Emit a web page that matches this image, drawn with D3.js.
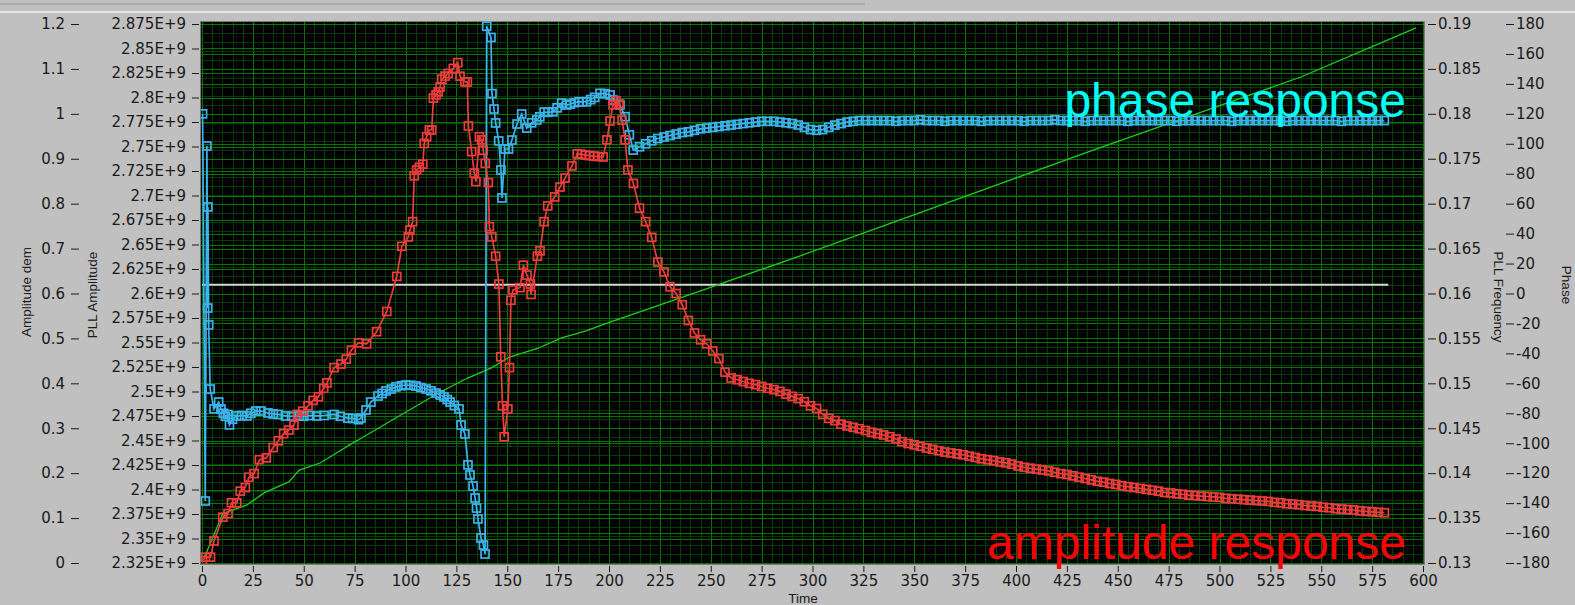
<!DOCTYPE html>
<html>
<head>
<meta charset="utf-8">
<script src="https://cdn.jsdelivr.net/npm/d3@7"></script>
<style>
  html, body { margin: 0; padding: 0; background: #c0c0c0; }
  svg { display: block; }
  .tick text { font-family: "DejaVu Sans", sans-serif; font-size: 15px; fill: #1a1a1a; }
  .title { font-family: "Liberation Sans", Arial, sans-serif; font-size: 13.5px; fill: #1a1a1a; }
</style>
</head>
<body>
<svg id="chart" width="1575" height="605"></svg>
<script>
// ---- axes ticks ----
const timeTicks = d3.range(0, 601, 25);
const ampDemTicks = [0, 0.1, 0.2, 0.3, 0.4, 0.5, 0.6, 0.7, 0.8, 0.9, 1, 1.1, 1.2];
const pllAmpTicks = [2.325, 2.35, 2.375, 2.4, 2.425, 2.45, 2.475, 2.5, 2.525, 2.55, 2.575, 2.6,
                     2.625, 2.65, 2.675, 2.7, 2.725, 2.75, 2.775, 2.8, 2.825, 2.85, 2.875];
const freqTicks = [0.13, 0.135, 0.14, 0.145, 0.15, 0.155, 0.16, 0.165, 0.17, 0.175, 0.18, 0.185, 0.19];
const phaseTicks = [180, 160, 140, 120, 100, 80, 60, 40, 20, 0, -20, -40, -60, -80, -100, -120, -140, -160, -180];

// ---- amplitude response (Amplitude dem axis) ----
const ampTime = [0.2, 1.7, 4.2, 5.9, 10.2, 12.8, 14.5, 17.1, 18.8, 21.3, 23.0, 25.6, 28.2, 31.6, 35.0, 37.5,
  40.1, 42.7, 45.2, 46.9, 49.5, 52.1, 54.6, 57.2, 59.8, 61.4, 64.9, 68.3, 70.9, 73.4, 76.9, 80.9, 85.8,
  90.8, 95.7, 98.2, 101.4, 102.2, 103.5, 104.3, 105.5, 106.8, 108.5, 109.2, 110.4, 111.7, 112.9, 113.7,
  115.0, 116.1, 117.0, 117.8, 119.4, 121.0, 123.5, 125.7, 126.8, 129.2, 130.4, 130.9, 132.5, 133.8, 134.6,
  136.3, 137.4, 138.2, 139.2, 140.7, 141.2, 142.4, 144.3, 145.9, 146.8, 147.7, 148.5, 150.3, 151.1, 151.8,
  152.8, 156.3, 157.9, 159.7, 161.4, 161.7, 164.8, 166.1, 168.1, 169.9, 173.3, 175.9, 178.4, 181.8, 184.4,
  186.5, 188.5, 190.4, 192.5, 194.5, 197.1, 199.0, 200.5, 202.0, 203.4, 204.9, 206.4, 207.9, 209.3,
  212, 215, 218, 221, 224, 227, 230, 233, 236, 239, 242, 245, 248, 251, 254, 257, 260, 263, 266, 269,
  272, 275, 278, 281, 284, 287, 290, 293, 296, 299, 302, 305, 308, 311, 314, 317, 320, 323, 326, 329,
  332, 335, 338, 341, 344, 347, 350, 353, 356, 359, 362, 365, 368, 371, 374, 377, 380, 383, 386, 389,
  392, 395, 398, 401, 404, 407, 410, 413, 416, 419, 422, 425, 428, 431, 434, 437, 440, 443, 446, 449,
  452, 455, 458, 461, 464, 467, 470, 473, 476, 479, 482, 485, 488, 491, 494, 497, 500, 503, 506, 509,
  512, 515, 518, 521, 524, 527, 530, 533, 536, 539, 542, 545, 548, 551, 554, 557, 560, 563, 566, 569,
  572, 575, 578, 581];
const ampValue = [0.005, 0.013, 0.013, 0.049, 0.102, 0.110, 0.134, 0.134, 0.160, 0.168, 0.191, 0.199, 0.230,
  0.234, 0.257, 0.272, 0.288, 0.296, 0.307, 0.331, 0.338, 0.350, 0.362, 0.370, 0.389, 0.401, 0.435, 0.443,
  0.454, 0.474, 0.490, 0.488, 0.515, 0.560, 0.638, 0.705, 0.726, 0.741, 0.760, 0.862, 0.875, 0.881, 0.888,
  0.934, 0.949, 0.964, 0.964, 1.035, 1.042, 1.049, 1.060, 1.077, 1.084, 1.090, 1.101, 1.114, 1.084, 1.071,
  1.071, 0.973, 0.916, 0.868, 0.849, 0.949, 0.942, 0.919, 0.890, 0.847, 0.749, 0.726, 0.683, 0.621, 0.459,
  0.350, 0.281, 0.343, 0.435, 0.585, 0.608, 0.613, 0.663, 0.641, 0.621, 0.598, 0.683, 0.695, 0.760, 0.795,
  0.815, 0.837, 0.857, 0.884, 0.911, 0.910, 0.908, 0.907, 0.906, 0.905, 0.904, 0.942, 0.984, 1.020, 1.029,
  1.022, 0.986, 0.942, 0.875,
  0.845, 0.790, 0.760, 0.725, 0.670, 0.648, 0.615, 0.600, 0.575, 0.540, 0.512, 0.497, 0.488, 0.472, 0.455,
  0.425, 0.412, 0.408, 0.404, 0.400, 0.397, 0.393, 0.389, 0.386, 0.382, 0.376, 0.371, 0.366, 0.359, 0.350,
  0.344, 0.331, 0.322, 0.317, 0.309, 0.305, 0.302, 0.299, 0.295, 0.291, 0.288, 0.285, 0.281, 0.276, 0.270,
  0.266, 0.263, 0.260, 0.256, 0.253, 0.250, 0.247, 0.245, 0.243, 0.241, 0.238, 0.235, 0.232, 0.230, 0.228,
  0.225, 0.223, 0.220, 0.216, 0.213, 0.211, 0.209, 0.207, 0.205, 0.202, 0.199, 0.197, 0.194, 0.191, 0.188,
  0.185, 0.182, 0.180, 0.177, 0.175, 0.172, 0.170, 0.168, 0.166, 0.164, 0.162, 0.160, 0.157, 0.156, 0.154,
  0.153, 0.151, 0.150, 0.149, 0.148, 0.147, 0.146, 0.144, 0.143, 0.142, 0.141, 0.140, 0.139, 0.138, 0.137,
  0.135, 0.134, 0.132, 0.131, 0.130, 0.128, 0.127, 0.126, 0.124, 0.123, 0.121, 0.120, 0.119, 0.118, 0.116,
  0.115, 0.114, 0.113, 0.112];

// ---- phase response (Phase axis, degrees) ----
const phaseTime = [0.3, 1.6, 2.4, 2.8, 2.9, 3.3, 4.0, 5.9, 8.2, 9.3, 10.5, 11.5, 12.7, 13.5, 15.0, 17.0, 19.5,
  22.1, 24.0, 26.4, 29.0, 32.4, 35.0, 37.5, 41.0, 44.0, 47.8, 50.0, 53.0, 56.3, 60.0, 64.9, 68.0, 71.7, 74.0,
  76.9, 78.1, 80.6, 83.0, 86.5, 88.5, 90.4, 93.0, 95.3, 98.0, 100.2, 102.5, 105.2, 107.5, 110.1, 112.5, 115.0,
  117.0, 118.9, 120.5, 121.9, 124.0, 126.3, 127.3, 129.2, 130.7, 131.7, 133.2, 134.2, 134.9, 135.6, 137.1,
  138.3, 139.1, 139.9, 142.0, 142.5, 143.5, 144.3, 145.8, 146.9, 147.4, 148.9, 150.6, 152.3, 154.8, 157.1,
  159.6, 162.0, 164.5, 166.0, 168.1, 170.0, 172.5, 174.5, 176.7, 179.2, 181.0, 183.0, 185.3, 187.0, 189.0,
  191.0, 193.0, 195.6, 198.0, 200.5, 202.1, 205.4, 207.9, 210.0, 211.9,
  215, 218, 221, 224, 227, 230, 233, 236, 239, 242, 245, 248, 251, 254, 257, 260, 263, 266, 269,
  272, 275, 278, 281, 284, 287, 290, 293, 296, 299, 302, 305, 308, 311, 314, 317, 320, 323, 326, 329,
  332, 335, 338, 341, 344, 347, 350, 353, 356, 359, 362, 365, 368, 371, 374, 377, 380, 383, 386, 389,
  392, 395, 398, 401, 404, 407, 410, 413, 416, 419, 422, 425, 428, 431, 434, 437, 440, 443, 446, 449,
  452, 455, 458, 461, 464, 467, 470, 473, 476, 479, 482, 485, 488, 491, 494, 497, 500, 503, 506, 509,
  512, 515, 518, 521, 524, 527, 530, 533, 536, 539, 542, 545, 548, 551, 554, 557, 560, 563, 566, 569,
  572, 575, 578, 581];
const phaseValue = [120.0, -138.6, 98.5, -9.7, 57.8, -21.0, -63.8, -77.1, -72.5, -77.1, -80.0, -82.0, -80.8,
  -87.8, -84.0, -81.8, -81.5, -81.8, -80.0, -78.5, -78.5, -79.8, -80.5, -80.8, -81.8, -82.0, -81.8, -82.0,
  -81.5, -81.8, -81.5, -80.8, -82.0, -83.2, -83.5, -84.3, -83.2, -77.8, -72.5, -68.5, -66.8, -65.1, -63.8,
  -62.4, -61.6, -61.1, -61.3, -61.8, -62.8, -63.8, -65.0, -66.5, -67.8, -69.1, -70.8, -72.5, -74.8, -77.1,
  -87.8, -93.8, -114.5, -121.2, -128.6, -136.6, -143.3, -150.6, -163.3, -168.0, -174.0, 178.5, 171.0, 133.5,
  123.2, 113.9, 101.9, 82.5, 63.8, 96.5, 96.5, 102.5, 113.2, 119.9, 110.5, 114.0, 115.9, 118.0, 121.2, 121.0,
  121.4, 124.0, 127.2, 125.9, 126.5, 127.5, 128.1, 128.0, 128.1, 129.5, 131.0, 133.7, 133.5, 132.6, 129.2,
  125.9, 118.1, 106.0, 95.8,
  98.0, 100.0, 102.0, 103.5, 104.5, 105.5, 106.5, 107.5, 108.0, 109.0, 110.0, 110.5, 111.0, 111.5, 112.0,
  112.5, 113.0, 113.5, 114.0, 114.5, 115.0, 115.0, 115.0, 114.5, 114.0, 113.5, 112.5, 111.0, 109.5, 109.0,
  109.5, 111.0, 112.5, 113.5, 114.5, 115.0, 115.5, 115.5, 115.5, 115.5, 115.5, 115.5, 115.0, 115.5, 115.5,
  115.5, 116.0, 115.5, 115.5, 115.5, 115.0, 115.5, 115.5, 115.5, 115.5, 115.5, 115.0, 115.5, 115.5, 115.5,
  115.5, 115.5, 115.5, 115.0, 115.5, 115.5, 115.5, 115.5, 116.0, 115.5, 115.5, 115.5, 115.5, 115.0, 115.5,
  115.5, 115.5, 115.5, 115.5, 115.5, 115.0, 115.5, 115.5, 115.5, 115.5, 115.5, 115.5, 115.5, 115.0, 115.5,
  115.5, 115.5, 115.5, 115.5, 115.5, 115.5, 115.5, 115.0, 115.5, 115.5, 115.5, 115.5, 115.5, 115.5, 115.5,
  115.5, 115.0, 115.5, 115.5, 115.5, 115.5, 115.5, 115.5, 115.5, 115.5, 115.0, 115.5, 115.5, 115.5, 115.5,
  115.5, 115.5, 115.5];

// ---- PLL frequency ----
const freqTime = [0.5, 1.7, 10.2, 22.1, 30.7, 42.7, 47.8, 58.0, 64.9, 71.7, 77.6, 117.0, 130.6, 142.5, 151.1,
  164.8, 176.7, 188.7, 198.0, 245.0, 294.0, 343.0, 392.0, 441.0, 490.0, 540.0, 596.6];
const freqValue = [0.13067, 0.13089, 0.13550, 0.13646, 0.13783, 0.13902, 0.14035, 0.14113, 0.14208,
  0.14304, 0.14380, 0.14904, 0.15059, 0.15175, 0.15293, 0.15388, 0.15505, 0.15583, 0.15661, 0.16030,
  0.16420, 0.16820, 0.17220, 0.17620, 0.18010, 0.18410, 0.18956];

// ---- PLL amplitude reference level ----
const pllRefTime = [0, 583];
const pllRefValue = [2.609e9, 2.609e9];

// ---- layout ----
const svg = d3.select("#chart");
const W = 1575, H = 605;
const plot = { left: 201, right: 1424, top: 22, bottom: 564 };
const yTop = 24, yBottom = 563;

const x = d3.scaleLinear().domain([0, 600]).range([202, 1423]);
const yAmp = d3.scaleLinear().domain([0, 1.2]).range([yBottom, yTop]);
const yPll = d3.scaleLinear().domain([2.325e9, 2.875e9]).range([yBottom, yTop]);
const yFreq = d3.scaleLinear().domain([0.13, 0.19]).range([yBottom, yTop]);
const yPhase = d3.scaleLinear().domain([-180, 180]).range([yBottom, yTop]);

// window frame strip along the top
svg.append("rect").attr("x", 0).attr("y", 0).attr("width", W).attr("height", H).attr("fill", "#c0c0c0");
svg.append("rect").attr("x", 0).attr("y", 3).attr("width", 865).attr("height", 2).attr("fill", "#a8a8a8");
svg.append("rect").attr("x", 0).attr("y", 11).attr("width", W).attr("height", 2).attr("fill", "#e4e4e4");

// plot background
svg.append("rect")
  .attr("x", plot.left).attr("y", plot.top)
  .attr("width", plot.right - plot.left).attr("height", plot.bottom - plot.top)
  .attr("fill", "#000");

const grid = svg.append("g");
const minorCol = "#003c00", majorCol = "#007800";

// vertical grid
d3.range(0, 601, 5).forEach(t => {
  grid.append("line")
    .attr("x1", Math.round(x(t)) + 0.5).attr("x2", Math.round(x(t)) + 0.5)
    .attr("y1", plot.top).attr("y2", plot.bottom)
    .attr("stroke", t % 25 === 0 ? majorCol : minorCol).attr("stroke-width", 1);
});
// horizontal minor grid
d3.range(0, 1.2001, 0.02).forEach(v => {
  grid.append("line").attr("x1", plot.left).attr("x2", plot.right)
    .attr("y1", Math.round(yAmp(v)) + 0.5).attr("y2", Math.round(yAmp(v)) + 0.5)
    .attr("stroke", minorCol);
});
// horizontal major grids for each value axis
function hLines(scale, vals, mul) {
  vals.forEach(v => {
    const yy = Math.round(scale(v * mul)) + 0.5;
    grid.append("line").attr("x1", plot.left).attr("x2", plot.right)
      .attr("y1", yy).attr("y2", yy).attr("stroke", majorCol);
  });
}
hLines(yAmp, ampDemTicks, 1);
hLines(yPll, pllAmpTicks, 1e9);
hLines(yPhase, phaseTicks, 1);

// plot border
svg.append("rect")
  .attr("x", plot.left - 0.5).attr("y", plot.top - 0.5)
  .attr("width", plot.right - plot.left + 1).attr("height", plot.bottom - plot.top + 1)
  .attr("fill", "none").attr("stroke", "#7a7a7a");

// ---- series ----
svg.append("clipPath").attr("id", "plotclip").append("rect")
  .attr("x", plot.left).attr("y", plot.top - 4)
  .attr("width", plot.right - plot.left).attr("height", plot.bottom - plot.top + 4);
const series = svg.append("g").attr("clip-path", "url(#plotclip)");

// reference level
series.append("path")
  .datum(pllRefTime.map((t, i) => [t, pllRefValue[i]]))
  .attr("d", d3.line().x(d => x(d[0])).y(d => yPll(d[1])))
  .attr("stroke", "#d4d4d4").attr("stroke-width", 2).attr("fill", "none");

// PLL frequency
series.append("path")
  .datum(freqTime.map((t, i) => [t, freqValue[i]]))
  .attr("d", d3.line().x(d => x(d[0])).y(d => yFreq(d[1])))
  .attr("stroke", "#19d219").attr("stroke-width", 1.3).attr("fill", "none");

function drawSeries(times, values, scale, color) {
  const pts = times.map((t, i) => [t, values[i]]);
  series.append("path")
    .datum(pts)
    .attr("d", d3.line().x(d => x(d[0])).y(d => scale(d[1])))
    .attr("stroke", color).attr("stroke-width", 1.7).attr("fill", "none");
  series.append("g").selectAll("rect").data(pts).join("rect")
    .attr("x", d => x(d[0]) - 4).attr("y", d => scale(d[1]) - 4)
    .attr("width", 8).attr("height", 8)
    .attr("fill", "none").attr("stroke", color).attr("stroke-width", 1.7);
}
drawSeries(phaseTime, phaseValue, yPhase, "#3cb4ee");
drawSeries(ampTime, ampValue, yAmp, "#f03c3c");

// ---- annotations ----
svg.append("text").attr("x", 1406).attr("y", 117)
  .attr("text-anchor", "end")
  .style("font-family", "'Liberation Sans', Arial, sans-serif").style("font-size", "48px")
  .attr("fill", "#00ffff").text("phase response");
svg.append("text").attr("x", 1406).attr("y", 559)
  .attr("text-anchor", "end")
  .style("font-family", "'Liberation Sans', Arial, sans-serif").style("font-size", "48px")
  .attr("fill", "#ff0000").text("amplitude response");

// ---- axes ----
function styleAxis(g) {
  g.select(".domain").remove();
  g.selectAll(".tick line").attr("stroke", "#1a1a1a");
}
svg.append("g").attr("transform", "translate(79,0)")
  .call(d3.axisLeft(yAmp).tickValues(ampDemTicks).tickFormat(d => String(d)).tickSize(8).tickPadding(6))
  .call(styleAxis);
svg.append("g").attr("transform", "translate(199,0)")
  .call(d3.axisLeft(yPll).tickValues(pllAmpTicks.map(v => v * 1e9))
    .tickFormat(d => String(+(d / 1e9).toFixed(3)) + "E+9").tickSize(7).tickPadding(6))
  .call(styleAxis);
svg.append("g").attr("transform", "translate(1428,0)")
  .call(d3.axisRight(yFreq).tickValues(freqTicks).tickFormat(d => String(d)).tickSize(8).tickPadding(2))
  .call(styleAxis);
svg.append("g").attr("transform", "translate(1506,0)")
  .call(d3.axisRight(yPhase).tickValues(phaseTicks).tickFormat(d => String(d)).tickSize(8).tickPadding(2))
  .call(styleAxis);
svg.append("g").attr("transform", "translate(0,566)")
  .call(d3.axisBottom(x).tickValues(timeTicks).tickFormat(d => String(d)).tickSize(6).tickPadding(3))
  .call(styleAxis);

// axis titles
svg.append("text").attr("class", "title").attr("text-anchor", "middle")
  .attr("transform", "translate(31,292) rotate(-90)").text("Amplitude dem");
svg.append("text").attr("class", "title").attr("text-anchor", "middle")
  .attr("transform", "translate(97,295) rotate(-90)").text("PLL Amplitude");
svg.append("text").attr("class", "title").attr("text-anchor", "middle")
  .attr("transform", "translate(1494,297) rotate(90)").text("PLL Frequency");
svg.append("text").attr("class", "title").attr("text-anchor", "middle")
  .attr("transform", "translate(1562,285) rotate(90)").text("Phase");
svg.append("text").attr("class", "title").attr("text-anchor", "middle")
  .attr("x", 803).attr("y", 603).text("Time");
</script>
</body>
</html>
